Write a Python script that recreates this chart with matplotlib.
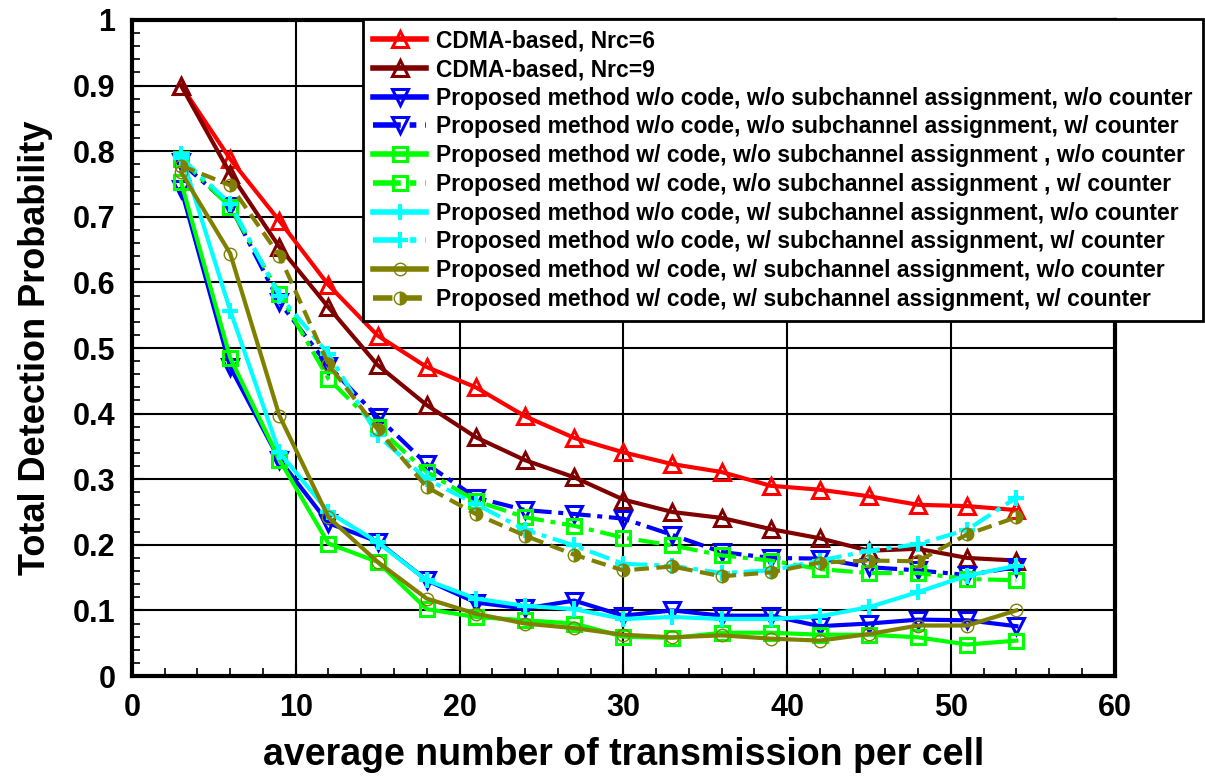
import matplotlib
matplotlib.use('Agg')
import matplotlib.pyplot as plt
from matplotlib.ticker import MultipleLocator

x = [3, 6, 9, 12, 15, 18, 21, 24, 27, 30, 33, 36, 39, 42, 45, 48, 51, 54]

cdma6 = [0.900, 0.788, 0.694, 0.596, 0.519, 0.471, 0.440, 0.396, 0.363, 0.341,
         0.323, 0.311, 0.290, 0.284, 0.274, 0.261, 0.259, 0.253]
cdma9 = [0.900, 0.766, 0.654, 0.562, 0.474, 0.413, 0.364, 0.329, 0.303, 0.269,
         0.250, 0.241, 0.224, 0.210, 0.191, 0.194, 0.180, 0.176]
nocode_nosub_nocnt = [0.743, 0.471, 0.330, 0.233, 0.205, 0.146, 0.112, 0.103, 0.115, 0.092,
                      0.100, 0.092, 0.092, 0.076, 0.080, 0.086, 0.085, 0.076]
nocode_nosub_cnt = [0.783, 0.717, 0.570, 0.473, 0.395, 0.323, 0.272, 0.253, 0.247, 0.240,
                    0.215, 0.189, 0.180, 0.179, 0.166, 0.161, 0.154, 0.166]
code_nosub_nocnt = [0.753, 0.485, 0.330, 0.202, 0.174, 0.102, 0.090, 0.085, 0.080, 0.060,
                    0.058, 0.066, 0.066, 0.063, 0.063, 0.059, 0.048, 0.054]
code_nosub_cnt = [0.788, 0.715, 0.583, 0.453, 0.379, 0.311, 0.267, 0.242, 0.229, 0.211,
                  0.199, 0.184, 0.176, 0.163, 0.157, 0.157, 0.148, 0.146]
nocode_sub_nocnt = [0.796, 0.557, 0.341, 0.250, 0.204, 0.146, 0.118, 0.107, 0.102, 0.087,
                    0.090, 0.087, 0.087, 0.091, 0.105, 0.128, 0.153, 0.168]
nocode_sub_cnt = [0.790, 0.720, 0.580, 0.491, 0.367, 0.300, 0.262, 0.223, 0.199, 0.171,
                  0.168, 0.157, 0.161, 0.176, 0.191, 0.201, 0.223, 0.272]
code_sub_nocnt = [0.768, 0.644, 0.397, 0.242, 0.174, 0.118, 0.095, 0.080, 0.073, 0.063,
                  0.059, 0.062, 0.057, 0.054, 0.064, 0.077, 0.077, 0.100]
code_sub_cnt = [0.778, 0.748, 0.641, 0.475, 0.376, 0.288, 0.247, 0.214, 0.185, 0.161,
                0.167, 0.152, 0.158, 0.173, 0.176, 0.175, 0.216, 0.242]

labels = [
    'CDMA-based, Nrc=6',
    'CDMA-based, Nrc=9',
    'Proposed method w/o code, w/o subchannel assignment, w/o counter',
    'Proposed method w/o code, w/o subchannel assignment, w/ counter',
    'Proposed method w/ code, w/o subchannel assignment , w/o counter',
    'Proposed method w/ code, w/o subchannel assignment , w/ counter',
    'Proposed method w/o code, w/ subchannel assignment, w/o counter',
    'Proposed method w/o code, w/ subchannel assignment, w/ counter',
    'Proposed method w/ code, w/ subchannel assignment, w/o counter',
    'Proposed method w/ code, w/ subchannel assignment, w/ counter',
]

plt.rcParams['font.family'] = ['Liberation Sans', 'DejaVu Sans']
plt.rcParams['font.weight'] = 'bold'

fig = plt.figure(figsize=(12.05, 7.81), dpi=100)
ax = fig.add_axes([0.1095, 0.1344, 0.8155, 0.84])

dashdot = (0, (5, 1.6, 1.2, 1.6))
olive_dash = (0, (3.5, 1.8))

ax.plot(x, cdma6, color='#ff0000', lw=3, marker='^', ms=12, mfc='none', mew=2.2, label=labels[0])
ax.plot(x, cdma9, color='#800000', lw=3, marker='^', ms=12, mfc='none', mew=2.2, label=labels[1])
ax.plot(x, nocode_nosub_nocnt, color='#0000ff', lw=3, marker='v', ms=12, mfc='none', mew=2.2, label=labels[2])
ax.plot(x, nocode_nosub_cnt, color='#0000ff', lw=3, ls=dashdot, marker='v', ms=12, mfc='none', mew=2.2, label=labels[3])
ax.plot(x, code_nosub_nocnt, color='#00ff00', lw=3, marker='s', ms=10, mfc='none', mew=2.2, label=labels[4])
ax.plot(x, code_nosub_cnt, color='#00ff00', lw=3, ls=dashdot, marker='s', ms=10, mfc='none', mew=2.2, label=labels[5])
ax.plot(x, nocode_sub_nocnt, color='#00ffff', lw=3, marker='+', ms=12, mew=3, label=labels[6])
ax.plot(x, nocode_sub_cnt, color='#00ffff', lw=3, ls=dashdot, marker='+', ms=12, mew=3, label=labels[7])
ax.plot(x, code_sub_nocnt, color='#808000', lw=3, marker='o', ms=9, mfc='none', mew=1, label=labels[8])
ax.plot(x, code_sub_cnt, color='#808000', lw=3, ls=olive_dash, marker='o', ms=9, fillstyle='right',
        mfc='#808000', mfcalt='none', mew=1, label=labels[9])

ax.set_xlim(0, 60)
ax.set_ylim(0, 1)
ax.xaxis.set_major_locator(MultipleLocator(10))
ax.xaxis.set_minor_locator(MultipleLocator(2))
ax.yaxis.set_minor_locator(MultipleLocator(0.02))
ax.set_yticks([0, 0.1, 0.2, 0.3, 0.4, 0.5, 0.6, 0.7, 0.8, 0.9, 1.0])
ax.set_yticklabels(['0', '0.1', '0.2', '0.3', '0.4', '0.5', '0.6', '0.7', '0.8', '0.9', '1'])
ax.grid(True, which='major', color='black', lw=1.5)
ax.tick_params(which='both', direction='in', top=False, right=False, labelsize=22)
ax.tick_params(which='major', length=8, width=1.5)
ax.tick_params(axis='x', pad=12)
ax.tick_params(axis='y', pad=12)
ax.tick_params(which='minor', length=6, width=1.2)
for s in ax.spines.values():
    s.set_linewidth(3)

ax.set_xlabel('average number of transmission per cell', fontweight='bold', fontsize=27, labelpad=10)
ax.set_ylabel('Total Detection Probability', fontweight='bold', fontsize=26, labelpad=14)

leg = ax.legend(loc='upper left', bbox_to_anchor=(0.3012, 0.9757), bbox_transform=fig.transFigure,
                borderaxespad=0, prop={'weight': 'bold', 'size': 16.5}, handlelength=2.3,
                labelspacing=0.25, borderpad=0.45, handletextpad=0.45, fancybox=False,
                framealpha=1, edgecolor='black')
leg.get_frame().set_linewidth(2)
for line in leg.get_lines():
    line.set_linewidth(4)

fig.savefig('out.png', dpi=100)
